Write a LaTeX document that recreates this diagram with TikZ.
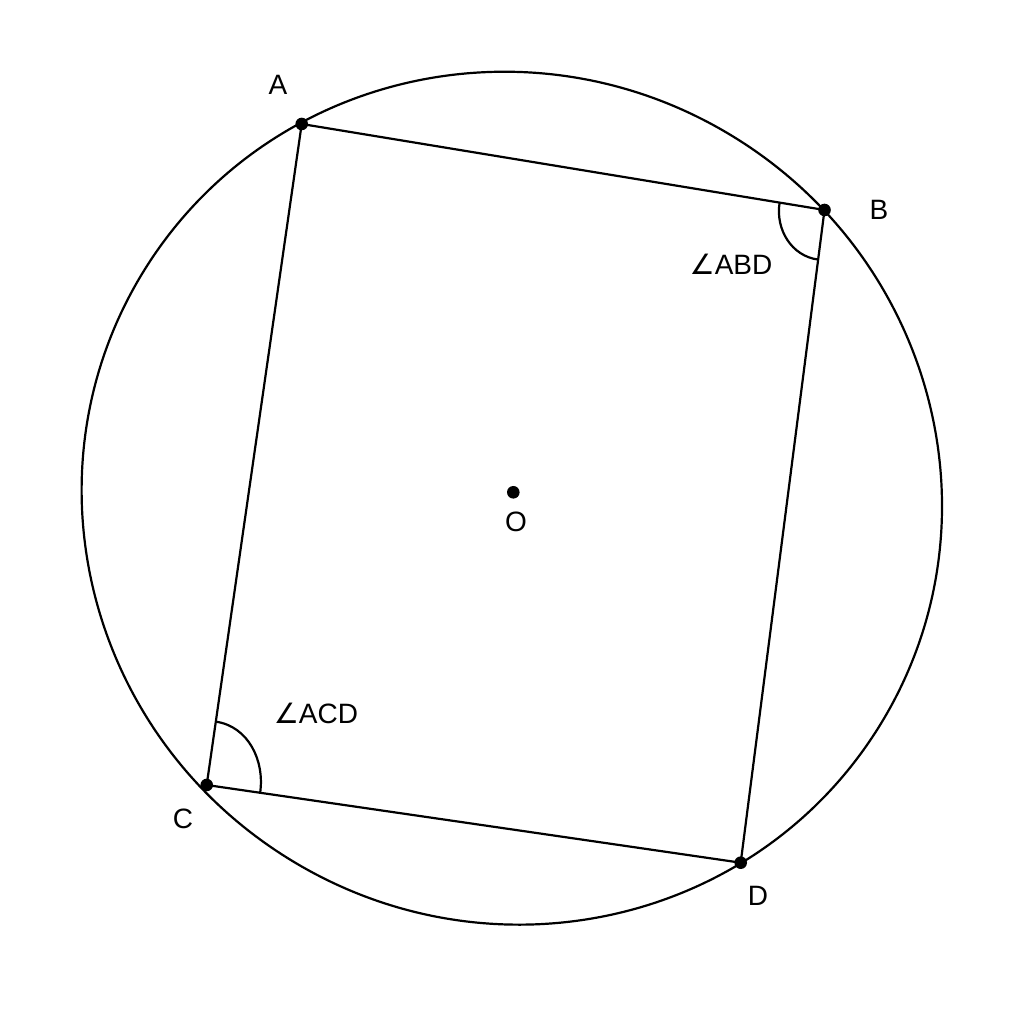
\documentclass[tikz,border=0pt]{standalone}
\usepackage{fontspec}
\setmainfont{Liberation Sans}
\newfontfamily\symfont{DejaVu Sans}
\usetikzlibrary{calc}
\begin{document}
\begin{tikzpicture}[x=1pt,y=1pt,line width=2.2pt,line join=round,
  lbl/.style={font=\fontsize{28}{34}\selectfont, inner sep=0pt}]
\fill[white] (0,0) rectangle (1024,1024);
\useasboundingbox (0,0) rectangle (1024,1024);
% vertices
\coordinate (A) at (301.7,900);
\coordinate (B) at (824.5,814);
\coordinate (C) at (206.7,239);
\coordinate (D) at (740.7,161.3);
\coordinate (O) at (513.3,531.7);
% centre of the drawn circle
\coordinate (Oc) at (511.8,525.8);
% circle
\draw[rotate around={-32:(Oc)}] (Oc) ellipse [x radius=432.5, y radius=424];
% quadrilateral
\draw (A) -- (B) -- (D) -- (C) -- cycle;
% angle marks
\draw ($(B)!45.5pt!(A)$) to[out=260.7,in=172.7] ($(B)!50pt!(D)$);
\draw ($(C)!64pt!(A)$) to[out=-8.2,in=81.7] ($(C)!54pt!(D)$);
% dots
\foreach \p in {A,B,C,D,O} \fill (\p) circle (6.3);
% labels
\node[lbl] (lA) at (278,939) {A};
\node[lbl] (lB) at (879,814) {B};
\node[lbl] (lC) at (183,205) {C};
\node[lbl] (lD) at (758,128) {D};
\node[lbl] (lO) at (516,502) {O};
\node[lbl] (lABD) at (731,760) {{\symfont ∠}ABD};
\node[lbl] (lACD) at (316,311) {{\symfont ∠}ACD};
\end{tikzpicture}
\end{document}
